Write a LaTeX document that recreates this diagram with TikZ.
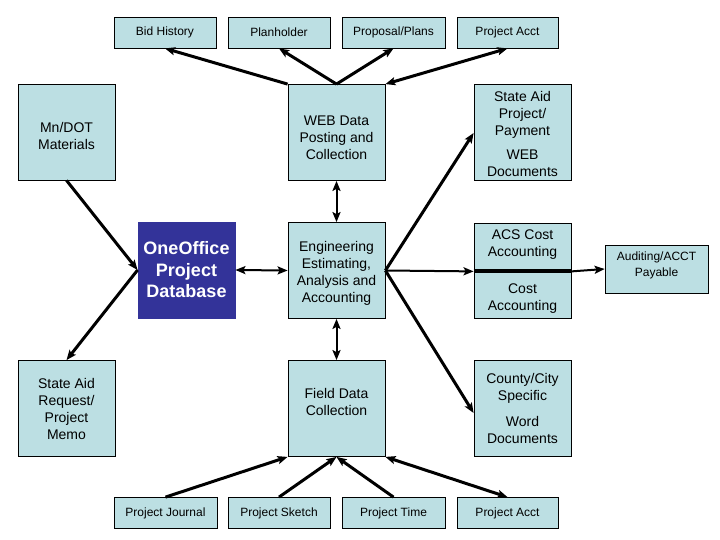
\documentclass[tikz,border=0pt]{standalone}
\usepackage{fontspec}
\setmainfont{Liberation Sans}
\usetikzlibrary{arrows.meta}
\definecolor{boxfill}{HTML}{BCDFE3}
\definecolor{dbfill}{HTML}{333399}
\newcommand\upgap[1]{\rule{0pt}{#1}}
\begin{document}
\begin{tikzpicture}[x=1pt,y=-1pt,
  box/.style={draw=black, line width=0.8pt, fill=boxfill, align=center, inner sep=1pt,
    font=\fontsize{14}{17}\selectfont},
  big/.style={box, minimum width=97pt, minimum height=96pt},
  half/.style={box, minimum width=97pt, minimum height=47.5pt},
  small/.style={box, minimum height=31pt, font=\fontsize{12}{14}\selectfont},
  mytip/.tip={Stealth[length=10pt,width=8pt,inset=2pt]},
  thk/.style={line width=3pt, -mytip},
  thkb/.style={line width=3pt, mytip-mytip},
  thn/.style={line width=2pt, -mytip},
  thnb/.style={line width=2pt, mytip-mytip}
]
\useasboundingbox (0,0) rectangle (720,540);
\fill[white] (0,0) rectangle (720,540);

% top row
\node[small, minimum width=102pt] (bid)   at (165,32.5)   {Bid History};
\node[small, minimum width=102pt] (plan)  at (279,32.5)   {Planholder};
\node[small, minimum width=103pt] (prop)  at (393.5,32.5) {Proposal/Plans};
\node[small, minimum width=101pt] (acct1) at (507.5,32.5) {Project Acct};

% big boxes
\node[big] (mndot) at (66.5,132)  {\upgap{18pt}Mn/DOT\\Materials};
\node[big] (web)   at (336.5,132.5) {\upgap{20pt}WEB Data\\Posting and\\Collection};
\node[big] (sap)   at (522.5,132) {\upgap{15pt}State Aid\\Project/\\Payment\\[7pt]WEB\\Documents};

\node[big, fill=dbfill, draw=dbfill, text=white, font=\fontsize{18}{21.5}\selectfont\bfseries]
   (one) at (186.5,270) {OneOffice\\Project\\Database};
\node[big] (eng) at (336.5,270.5) {\upgap{16pt}Engineering\\Estimating,\\Analysis and\\Accounting};
\node[half] (acst) at (522.5,247.25) {ACS Cost\\Accounting\rule[-8pt]{0pt}{0pt}};
\node[half] (acsb) at (522.5,294.75) {\upgap{18pt}Cost\\Accounting};
\node[small, minimum width=103pt, minimum height=48pt, font=\fontsize{12}{16}\selectfont]
   (aud) at (656.5,269) {Auditing/ACCT\\Payable\rule[-10.6pt]{0pt}{0pt}};

\node[big] (sar)    at (66.5,408.5)  {\upgap{12pt}State Aid\\Request/\\Project\\Memo};
\node[big] (field)  at (336.5,408.5) {\upgap{17pt}Field Data\\Collection\\[3pt]~};
\node[big] (county) at (522.5,408.5) {County/City\\Specific\\[9pt]Word\\Documents};

% bottom row
\node[small, minimum width=103pt] (journal) at (165.5,513) {Project Journal};
\node[small, minimum width=102pt] (sketch)  at (279,513)   {Project Sketch};
\node[small, minimum width=103pt] (ptime)   at (393.5,513) {Project Time};
\node[small, minimum width=101pt] (acct2)   at (507.5,513) {Project Acct};

% thick divider in ACS box
\draw[line width=4pt] (acst.south west) -- (acst.south east);

% top arrows
\draw[thk]  (web.north west) -- (bid.south);
\draw[thk]  (web.north) -- (plan.south);
\draw[thk]  (web.north) -- (prop.south);
\draw[thkb] (web.north east) -- (acct1.south);

% left
\draw[thk] (mndot.south) -- (one.west);
\draw[thk] (one.west) -- (sar.north);
\draw[thnb] (one.east) -- (eng.west);

% vertical
\draw[thnb] (web.south) -- (eng.north);
\draw[thnb] (eng.south) -- (field.north);

% right
\draw[thk] (eng.east) -- (sap.west |- 0,133);
\draw[thn] (eng.east) -- (acst.south west);
\draw[thk] (eng.east) -- (county.west |- 0,413);
\draw[thn] (acst.south east) -- (aud.west);

% bottom arrows
\draw[thk]  (journal.north) -- (field.south west);
\draw[thk]  (sketch.north) -- (field.south);
\draw[thk]  (ptime.north) -- (field.south);
\draw[thkb] (acct2.north) -- (field.south east);
\end{tikzpicture}
\end{document}
